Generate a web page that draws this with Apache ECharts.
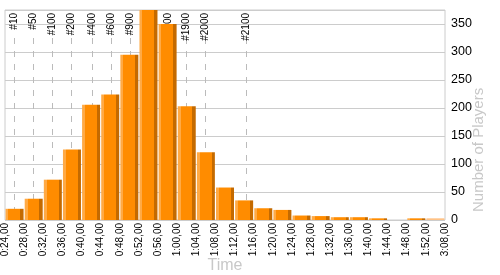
<!DOCTYPE html>
<html>
<head>
<meta charset="utf-8">
<script src="https://cdn.jsdelivr.net/npm/echarts@6/dist/echarts.min.js"></script>
<style>html,body{margin:0;padding:0;background:#fff}#c{width:500px;height:275px}</style>
</head>
<body>
<div id="c"></div>
<script>
// Bins (start times), 23 bins
const categories = ['0:24','0:28','0:32','0:36','0:40','0:44','0:48','0:52','0:56','1:00','1:04','1:08','1:12','1:16','1:20','1:24','1:28','1:32','1:36','1:40','1:44','1:48','1:52'];
const players = [20,38,72,126,206,224,295,375,350,203,121,58,35,21,18,8,7,5,5,3,0,3,3];
// Bin boundary tick labels (24)
const tickLabels = ['0:24,00','0:28,00','0:32,00','0:36,00','0:40,00','0:44,00','0:48,00','0:52,00','0:56,00','1:00,00','1:04,00','1:08,00','1:12,00','1:16,00','1:20,00','1:24,00','1:28,00','1:32,00','1:36,00','1:40,00','1:44,00','1:48,00','1:52,00','3:08,00'];
// Rank markers
const markerNames = ['#10','#50','#100','#200','#400','#600','#900','#1500','#1900','#2000','#2100'];
const markerPos = [0.49,1.48,2.47,3.45,4.53,5.52,6.53,8.5,9.46,10.47,12.58];
const yMax = 375;

const FONT = "'Liberation Sans', Arial, sans-serif";
const chart = echarts.init(document.getElementById('c'), null, {renderer:'canvas'});

const barStyle = {
  color: new echarts.graphic.LinearGradient(0,0,1,0,[
    {offset:0, color:'#FFAA45'},{offset:0.16, color:'#FFAA45'},
    {offset:0.16, color:'#FF8C00'},{offset:0.82, color:'#FF8C00'},
    {offset:0.82, color:'#C46A00'},{offset:1, color:'#C46A00'}
  ])
};
const barData = players.map((v,i)=> i === players.length-1 ? {value:v, itemStyle:{color:'#FFC285'}} : v);

chart.setOption({
  animation:false,
  textStyle:{fontFamily:FONT},
  grid:{left:5,right:55,top:10,bottom:55,show:true,borderColor:'#ccc',borderWidth:1,backgroundColor:'transparent',
        containLabel:false, outerBoundsMode:'none'},
  xAxis:[
    {type:'category', data:categories, boundaryGap:true, axisLabel:{show:false}, axisTick:{show:false}, axisLine:{show:false}, splitLine:{show:false}},
    {type:'value', min:0, max:categories.length, interval:1, position:'bottom',
     axisLine:{show:false}, axisTick:{show:false}, splitLine:{show:false},
     axisLabel:{rotate:90, fontSize:10, color:'#000', margin:3, fontFamily:FONT, formatter:(v)=>tickLabels[Math.round(v)]||''},
     name:'Time', nameLocation:'middle', nameGap:38, nameMoveOverlap:false,
     nameTextStyle:{fontSize:16, color:'#c8c8c8', fontFamily:FONT}}
  ],
  yAxis:{type:'value', position:'right', min:0, max:yMax, interval:50,
    axisLine:{show:false}, axisTick:{show:false},
    axisLabel:{fontSize:12.5, color:'#000', margin:6, showMaxLabel:false, fontFamily:FONT},
    splitLine:{lineStyle:{color:'#ccc', width:1}}},
  graphic:[{type:'text', x:479, y:212, rotation:Math.PI/2,
    style:{text:'Number of Players', fontSize:15, fontFamily:FONT, fill:'#c8c8c8', align:'left', verticalAlign:'middle'}}],
  series:[
    {type:'custom', xAxisIndex:1, yAxisIndex:0, z:1, silent:true,
     data: markerPos.map((p,i)=>[p, i]),
     renderItem:(params, api)=>{
       const x = api.value(0);
       const top = api.coord([x, yMax]);
       const bot = api.coord([x, 0]);
       const px = Math.round(top[0]) + 0.5;
       return {type:'group', children:[
         {type:'line', shape:{x1:px, y1:top[1]+28, x2:px, y2:bot[1]}, style:{stroke:'#bbb', lineWidth:1, lineDash:[6,7]}},
         {type:'text', x:px, y:top[1]+3, rotation:Math.PI/2,
          style:{text:markerNames[api.value(1)], fontSize:10, fontFamily:FONT, fill:'#000', align:'right', verticalAlign:'middle'}}
       ]};
     }},
    {type:'bar', xAxisIndex:0, yAxisIndex:0, z:2, data:barData, barWidth:18, itemStyle:barStyle}
  ]
});
</script>
</body>
</html>
